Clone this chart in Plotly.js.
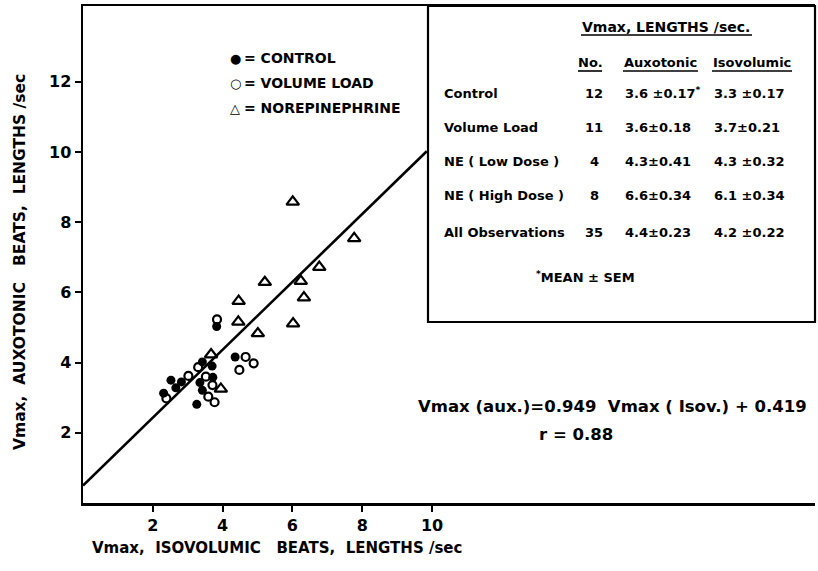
<!DOCTYPE html>
<html>
<head>
<meta charset="utf-8">
<script src="https://cdn.plot.ly/plotly-3.0.1.min.js"></script>
<style>html,body{margin:0;padding:0;background:#fff;}#chart{width:818px;height:571px;}</style>
</head>
<body>
<div id="chart"></div>
<script>
// ---- data ----
const controlX = [3.83, 4.36, 3.42, 3.70, 3.72, 2.52, 2.82, 2.66, 2.31, 3.35, 3.42, 3.26];
const controlY = [5.03, 4.16, 4.02, 3.90, 3.58, 3.50, 3.45, 3.28, 3.13, 3.43, 3.21, 2.81];
const volumeX = [3.84, 4.66, 4.89, 4.48, 3.02, 3.30, 3.52, 3.71, 2.39, 3.59, 3.77];
const volumeY = [5.23, 4.16, 3.98, 3.79, 3.62, 3.87, 3.60, 3.36, 2.98, 3.03, 2.87];
const neX = [6.01, 7.77, 6.77, 5.21, 6.24, 6.33, 4.46, 6.02, 4.45, 5.01, 3.67, 3.95];
const neY = [8.58, 7.54, 6.72, 6.29, 6.32, 5.85, 5.75, 5.11, 5.16, 4.83, 4.23, 3.25];
const fitX = [0, 9.85];
const fitY = [0.5, 10.02];
const xTicks = [2, 4, 6, 8, 10];
const yTicks = [2, 4, 6, 8, 10, 12];

const legendLabels = ['= CONTROL', '= VOLUME LOAD', '= NOREPINEPHRINE'];
const legendGlyphs = ['\u25CF', '\u25CB', '\u25B3'];

const tableTitle = 'Vmax, LENGTHS /sec.';
const tableHeaders = ['No.', 'Auxotonic', 'Isovolumic'];
const tableRows = ['Control', 'Volume Load', 'NE ( Low Dose )', 'NE ( High Dose )', 'All Observations'];
const tableN = ['12', '11', '4', '8', '35'];
const tableAux = ['3.6 \u00B10.17<sup>*</sup>', '3.6\u00B10.18', '4.3\u00B10.41', '6.6\u00B10.34', '4.4\u00B10.23'];
const tableIso = ['3.3 \u00B10.17', '3.7\u00B10.21', '4.3 \u00B10.32', '6.1 \u00B10.34', '4.2 \u00B10.22'];
const tableNote = '<sup>*</sup>MEAN \u00B1 SEM';

const eqText = 'Vmax (aux.)=0.949  Vmax ( Isov.) + 0.419';
const rText = 'r = 0.88';
const xTitle = 'Vmax,  ISOVOLUMIC   BEATS,  LENGTHS /sec';
const yTitle = 'Vmax,  AUXOTONIC   BEATS,  LENGTHS /sec';

// ---- layout helpers (pixel -> paper) ----
const L = 83, R = 3, T = 6, B = 68, W = 818, H = 571;
const PW = W - L - R, PH = H - T - B;
const PX = p => (p - L) / PW;
const PY = p => (H - B - p) / PH;
const FAM = 'DejaVu Sans, Liberation Sans, Arial, sans-serif';
const f = (s) => ({family: FAM, size: s, color: '#000', weight: 'bold'});

const traces = [
  {x: fitX, y: fitY, mode: 'lines', line: {color: '#000', width: 2.6}, hoverinfo: 'skip'},
  {x: controlX, y: controlY, mode: 'markers', marker: {symbol: 'circle', size: 9, color: '#000'}},
  {x: volumeX, y: volumeY, mode: 'markers', marker: {symbol: 'circle-open', size: 8, color: '#000', line: {width: 2.2, color: '#000'}}},
  {x: neX, y: neY, mode: 'markers', marker: {symbol: 'triangle-up-open', size: 11, color: '#000', line: {width: 2.2, color: '#000'}}}
];

const ann = [];
const A = (text, x, y, size, xanchor, extra) => ann.push(Object.assign({
  text: text, xref: 'paper', yref: 'paper', x: PX(x), y: PY(y),
  xanchor: xanchor || 'left', yanchor: 'middle', showarrow: false, font: f(size)
}, extra || {}));

// legend
const legY = [58, 83, 108];
legendLabels.forEach((t, i) => {
  A(legendGlyphs[i], 235, legY[i], 13, 'center');
  A(t, 242, legY[i], 14, 'left');
});

// table
A(tableTitle, 666, 27, 14, 'center');
const hdrX = [590, 660, 752];
tableHeaders.forEach((t, i) => A(t, hdrX[i], 63, 13, 'center'));
const rowY = [93, 127, 161, 196, 232];
tableRows.forEach((t, i) => {
  A(t, 442, rowY[i], 13, 'left');
  A(tableN[i], 594, rowY[i], 13, 'center');
  A(tableAux[i], 623, rowY[i], 13, 'left');
  A(tableIso[i], 712, rowY[i], 13, 'left');
});
A(tableNote, 534, 277, 13, 'left');

// equation
A(eqText, 416, 406, 16.5, 'left');
A(rText, 537, 434, 16.5, 'left');

// axis titles
A(xTitle, 277, 548, 15, 'center');
A(yTitle, 20, 262, 15.5, 'center', {textangle: -90});

// underlines of the table headings (pixel spans)
const underlineSpans = [[581, 752, 35], [578, 602, 71], [623, 698, 71], [712, 792, 71]];
const uShapes = underlineSpans.map(s => ({
  type: 'line', xref: 'paper', yref: 'paper', x0: PX(s[0]), x1: PX(s[1]), y0: PY(s[2]), y1: PY(s[2]),
  line: {color: '#000', width: 1.6}
}));

const layout = {
  width: W, height: H,
  margin: {l: L, r: R, t: T, b: B, pad: 0},
  paper_bgcolor: '#fff', plot_bgcolor: '#fff',
  showlegend: false,
  xaxis: {
    range: [0, PW / 34.9], tickvals: xTicks, ticktext: xTicks.map(String),
    showline: true, mirror: true, linecolor: '#000', linewidth: 2.5,
    ticks: 'outside', ticklen: 6, tickwidth: 2, tickcolor: '#000',
    showgrid: false, zeroline: false, tickfont: f(16), fixedrange: true
  },
  yaxis: {
    range: [0, PH / 35.1], tickvals: yTicks, ticktext: yTicks.map(String),
    showline: true, linecolor: '#000', linewidth: 2.5,
    ticks: 'outside', ticklen: 6, tickwidth: 2, tickcolor: '#000',
    showgrid: false, zeroline: false, tickfont: f(16), fixedrange: true
  },
  shapes: [
    {type: 'rect', xref: 'paper', yref: 'paper', x0: PX(428), x1: PX(815), y0: PY(322), y1: 1,
     line: {color: '#000', width: 2.2}, fillcolor: 'rgba(0,0,0,0)'}
  ].concat(uShapes),
  annotations: ann
};

Plotly.newPlot('chart', traces, layout, {displayModeBar: false, staticPlot: true});
</script>
</body>
</html>
